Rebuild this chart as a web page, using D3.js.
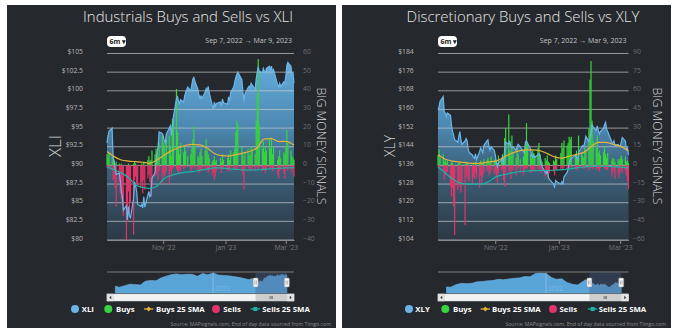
<!DOCTYPE html>
<html>
<head>
<meta charset="utf-8">
<script src="https://cdn.jsdelivr.net/npm/d3@7"></script>
<style>
  body { margin: 0; background: #fff; }
  svg { display: block; font-family: "Open Sans", sans-serif; }
</style>
</head>
<body>
<svg id="chart" width="678" height="336"></svg>
<script>
// ---- data ----
const firstDay = '2022-09-07';
const lastDay = '2023-03-09';
const marketHolidays = ['2022-11-24', '2022-12-26', '2023-01-02', '2023-01-16', '2023-02-20'];

const monthTicks = ['2022-11-01', '2023-01-01', '2023-03-01'];
const monthTickLabels = ["Nov '22", "Jan '23", "Mar '23"];

const xliPriceTicks = [80, 82.5, 85, 87.5, 90, 92.5, 95, 97.5, 100, 102.5, 105];
const xliSignalTicks = [-40, -30, -20, -10, 0, 10, 20, 30, 40, 50, 60];
const xlyPriceTicks = [104, 112, 120, 128, 136, 144, 152, 160, 168, 176, 184];
const xlySignalTicks = [-60, -45, -30, -15, 0, 15, 30, 45, 60, 75, 90];

// daily closes, one per trading day
const xliClose = [
  93.0, 94.0, 94.6, 95.0, 91.0, 90.5, 89.5, 88.8, 89.0, 88.0, 86.5, 85.8, 84.0, 84.6, 82.7, 84.5, 83.2, 83.0,
  85.5, 87.8, 87.3, 86.5, 84.8, 84.5, 84.8, 84.3, 85.8, 84.4, 86.0, 86.5, 85.8, 86.0, 88.3, 89.0, 90.5, 91.8, 92.5, 94.5, 94.3,
  94.0, 93.3, 93.0, 94.2, 95.0, 95.3, 94.0, 95.5, 96.5, 99.0, 99.2, 98.6, 98.3, 98.8, 98.5, 99.3, 99.8, 100.5, 100.0, 100.8, 101.6,
  101.8, 101.3, 100.2, 99.4, 99.0, 99.3, 99.0, 99.8, 100.3, 100.0, 100.6, 99.8, 98.0, 97.5, 98.5, 97.8, 98.3, 98.5, 97.9, 98.9, 98.4,
  98.2, 99.2, 98.6, 99.8, 100.5, 101.2, 101.8, 102.2, 102.5, 101.5, 99.8, 98.6, 99.6, 100.4, 100.6, 100.3, 101.0, 100.8, 100.2, 101.6,
  102.5, 103.2, 102.6, 102.4, 103.0, 102.6, 102.4, 103.0, 103.3, 102.8, 103.3, 102.4, 102.8, 100.8, 100.5, 101.0, 100.6, 101.2, 101.0,
  102.0, 103.4, 103.8, 103.3, 102.2, 102.4, 101.0
];
const xliBuys = [
  6, 4, 7, 5, 2, 3, 1, 2, 1, 0, 1, 0, 0, 0, 0, 1, 0, 0,
  1, 2, 1, 0, 0, 0, 1, 0, 2, 0, 3, 5, 2, 3, 8, 6, 9, 7, 5, 12, 16,
  12, 11, 6, 14, 16, 10, 5, 25, 24, 41, 18, 9, 6, 12, 7, 10, 8, 5, 6, 9, 14,
  21, 10, 5, 4, 7, 9, 5, 8, 14, 8, 6, 4, 2, 3, 5, 2, 3, 4, 2, 6, 3,
  4, 6, 3, 8, 7, 9, 18, 24, 22, 10, 6, 3, 7, 9, 6, 5, 10, 8, 6, 24,
  38, 57, 22, 9, 13, 7, 10, 8, 14, 9, 15, 6, 10, 3, 5, 8, 4, 7, 6,
  10, 19, 12, 8, 5, 4, 3
];
const xliSells = [
  -1, -2, -1, -3, -8, -7, -12, -22, -9, -15, -18, -21, -27, -40, -25, -14, -25, -20,
  -37, -8, -6, -10, -11, -12, -9, -15, -8, -13, -7, -5, -9, -17, -12, -6, -4, -5, -8, -3, -10,
  -4, -6, -5, -3, -10, -3, -6, -2, -1, -2, -3, -4, -2, -3, -2, -1, -1, -1, -3, -2, -1,
  -1, -2, -3, -4, -3, -2, -3, -2, -1, -2, -4, -3, -5, -4, -8, -6, -3, -2, -4, -1, -2,
  -3, -2, -3, -1, -2, -1, -2, -1, -2, -3, -5, -13, -2, -1, -2, -3, -1, -2, -3, -1,
  -1, -2, -1, -3, -2, -1, -4, -2, -1, -2, -1, -3, -2, -5, -7, -3, -2, -4, -7,
  -2, -1, -3, -2, -4, -2, -6
];

const xlyClose = [
  160, 161, 163.5, 165.5, 159, 158.5, 157, 158.5, 157.5, 153, 150.5, 149, 147, 146, 148.4, 150.5, 147, 145,
  146.5, 147.5, 146.5, 143, 141.5, 140.5, 139.5, 139, 141, 138.5, 142, 143.5, 142.5, 141.5, 144.5, 146.5, 147, 144, 142.5, 144, 142.5,
  140.5, 137.5, 135.5, 137, 138.5, 139.5, 136, 143, 146, 145, 146.5, 144, 143.5, 144, 142.5, 144, 145, 144, 142, 141.5, 146,
  146.5, 145.5, 143, 140, 139.5, 140.5, 139.5, 140.5, 141, 140, 136.5, 135.5, 133, 132.5, 134, 131, 130, 128, 126.8, 129.5, 129,
  128, 129, 127.8, 131, 133, 134.5, 137, 138, 139, 140.5, 139.5, 138.5, 141.5, 144, 144.5, 144, 146, 148.5, 146, 148,
  150.5, 153.5, 152.5, 151, 153, 151, 149.5, 150.5, 152, 153.5, 154.5, 151.5, 150.5, 146, 145.5, 146.5, 144.5, 145, 144.5,
  144, 146, 148, 146.5, 143, 143.5, 140.5
];
const xlyBuys = [
  8, 13, 6, 9, 3, 5, 2, 4, 1, 3, 2, 0, 0, 1, 2, 3, 0, 1,
  1, 3, 2, 1, 0, 0, 1, 0, 3, 1, 2, 4, 1, 2, 5, 4, 6, 3, 2, 7, 4,
  5, 3, 2, 8, 6, 9, 4, 22, 30, 41, 12, 8, 24, 10, 6, 14, 9, 5, 7, 11, 16,
  34, 18, 9, 6, 12, 10, 7, 14, 18, 9, 5, 3, 6, 4, 8, 3, 2, 4, 3, 8, 5,
  10, 18, 14, 20, 16, 18, 23, 21, 23, 8, 12, 5, 24, 10, 8, 6, 14, 12, 30, 69,
  84, 36, 20, 14, 24, 10, 12, 8, 11, 15, 9, 6, 10, 4, 6, 5, 3, 5, 4,
  6, 8, 5, 7, 3, 4, 2
];
const xlySells = [
  -1, -2, -1, -4, -12, -8, -6, -5, -17, -25, -18, -33, -56, -20, -14, -17, -22, -16,
  -48, -10, -8, -12, -13, -15, -9, -11, -6, -10, -18, -8, -14, -9, -6, -5, -3, -8, -6, -4, -7,
  -5, -9, -14, -6, -4, -3, -12, -17, -5, -4, -6, -11, -3, -4, -8, -3, -2, -6, -8, -4, -2,
  -3, -2, -6, -5, -4, -3, -5, -3, -2, -4, -6, -5, -9, -7, -4, -11, -6, -5, -8, -3, -4,
  -3, -2, -4, -2, -3, -1, -2, -1, -2, -3, -2, -4, -1, -2, -1, -3, -1, -2, -4, -2,
  -1, -2, -3, -4, -2, -3, -5, -2, -1, -3, -2, -4, -3, -9, -6, -4, -11, -7, -10,
  -5, -3, -6, -4, -8, -13, -19
];

// 25-day moving averages, read weekly
const smaDates = [
  '2022-09-07', '2022-09-14', '2022-09-21', '2022-09-28', '2022-10-05', '2022-10-12', '2022-10-19',
  '2022-10-26', '2022-11-02', '2022-11-09', '2022-11-16', '2022-11-23', '2022-11-30', '2022-12-07',
  '2022-12-14', '2022-12-21', '2022-12-28', '2023-01-04', '2023-01-11', '2023-01-18', '2023-01-25',
  '2023-02-01', '2023-02-08', '2023-02-15', '2023-02-22', '2023-03-01', '2023-03-09'
];
const xliBuysSMA = [7.4, 4.7, 2.9, 2.3, 2.0, 1.7, 1.2, 2.9, 5.6, 7.8, 9.6, 10.8, 11.3, 11.0, 9.3, 6.4, 5.2, 5.0, 5.8, 6.6, 7.6, 9.5, 14.2, 14.4, 12.8, 12.9, 10.9];
const xliSellsSMA = [-0.8, -2.3, -4.0, -6.5, -10.5, -11.8, -12.3, -11.0, -7.0, -5.3, -4.3, -3.6, -3.3, -2.5, -2.0, -1.3, -1.4, -1.8, -2.1, -2.4, -2.5, -2.4, -2.1, -1.8, -1.6, -1.4, -1.2];
const xlyBuysSMA = [8.6, 5.0, 3.5, 2.6, 2.0, 1.6, 1.8, 2.8, 3.5, 6.5, 9.5, 11.5, 12.5, 12.5, 11.8, 9.5, 6.8, 5.8, 7.5, 8.8, 10.5, 15.0, 18.5, 18.5, 17.0, 15.5, 11.5];
const xlySellsSMA = [-1.2, -6.0, -11.0, -14.2, -15.1, -15.1, -15.0, -13.0, -9.0, -7.5, -6.2, -5.1, -4.6, -4.2, -4.1, -4.1, -3.8, -3.4, -2.8, -2.0, -1.3, -0.8, -0.7, -0.7, -1.0, -1.4, -2.0];

// navigator history before the 6m window (monthly)
const navRange = ['2020-04-20', '2023-04-20'];
const navDates = [
  '2020-06-08', '2020-07-01', '2020-08-01', '2020-09-01', '2020-10-01', '2020-11-01', '2020-12-01',
  '2021-01-01', '2021-02-01', '2021-03-01', '2021-04-01', '2021-05-01', '2021-06-01', '2021-07-01',
  '2021-08-01', '2021-09-01', '2021-10-01', '2021-11-01', '2021-12-01', '2022-01-03', '2022-02-01',
  '2022-03-01', '2022-04-01', '2022-05-01', '2022-06-01', '2022-07-01', '2022-08-01', '2022-08-16', '2022-09-01'
];
const xliNavHistory = [73, 70, 74, 78, 77, 76, 86, 88, 87, 94, 99, 103, 105, 103, 104, 104, 99, 106, 103, 107.5, 102, 101, 100, 98, 96, 93, 90, 93, 89];
const xlyNavHistory = [130, 128, 142, 150, 148, 150, 158, 160, 164, 165, 172, 170, 174, 178, 180, 188, 186, 205, 207, 204, 182, 172, 175, 155, 145, 140, 160, 170, 158];

// ---- drawing ----
const svg = d3.select('#chart');
const defs = svg.append('defs');
const parse = d3.utcParse('%Y-%m-%d');
const fmt = d3.utcFormat('%Y-%m-%d');

function tradingDays(a, b) {
  const out = [];
  for (let d = parse(a); d <= parse(b); d = d3.utcDay.offset(d, 1)) {
    const wd = d.getUTCDay();
    if (wd === 0 || wd === 6 || marketHolidays.includes(fmt(d))) continue;
    out.push(d);
  }
  return out;
}
const days = tradingDays(firstDay, lastDay);

const PLOT_TOP = 53.5, PLOT_BOTTOM = 240;
const NAV_TOP = 272, NAV_BOTTOM = 293;
const FONT = '"Open Sans", sans-serif';

function fitText(sel, width) {
  const w = sel.node().getComputedTextLength();
  const fs = parseFloat(sel.attr('font-size'));
  sel.attr('font-size', fs * width / w);
}

function drawPanel(p) {
  const g = svg.append('g');
  g.append('rect').attr('x', p.boxX).attr('y', 5).attr('width', 329).attr('height', 323).attr('fill', '#25282c');

  const x = d3.scaleUtc().domain([days[0], days[days.length - 1]]).range([p.left, p.right]);
  const yP = d3.scaleLinear().domain(d3.extent(p.priceTicks)).range([PLOT_BOTTOM, PLOT_TOP]);
  const yS = d3.scaleLinear().domain(d3.extent(p.signalTicks)).range([PLOT_BOTTOM, PLOT_TOP]);

  // title + range selector
  const title = g.append('text').attr('x', p.titleX).attr('y', 21.7).attr('text-anchor', 'middle')
    .attr('font-size', 15).attr('font-weight', 300).attr('fill', '#e6e6e6').text(p.title);
  fitText(title, p.titleW);

  g.append('rect').attr('x', p.left).attr('y', 36).attr('width', 19).attr('height', 11).attr('rx', 4).attr('fill', '#fff');
  g.append('text').attr('x', p.left + 2.5).attr('y', 44.2).attr('font-size', 7).attr('font-weight', 700)
    .attr('fill', '#222').text('6m \u25BE');
  g.append('text').attr('x', p.right - 2).attr('y', 43).attr('text-anchor', 'end').attr('font-size', 7)
    .attr('fill', '#c4c4c4').text('Sep 7, 2022  \u2192  Mar 9, 2023');

  // price area with gradient
  const gid = 'grad' + p.ticker;
  const grad = defs.append('linearGradient').attr('id', gid).attr('gradientUnits', 'userSpaceOnUse')
    .attr('x1', 0).attr('x2', 0).attr('y1', PLOT_TOP).attr('y2', PLOT_BOTTOM);
  grad.append('stop').attr('offset', '0%').attr('stop-color', '#68b2e2');
  grad.append('stop').attr('offset', '40%').attr('stop-color', '#4c87b0');
  grad.append('stop').attr('offset', '62%').attr('stop-color', '#3c617b');
  grad.append('stop').attr('offset', '100%').attr('stop-color', '#2c3943');

  const closes = days.map((d, i) => ({ date: d, v: p.close[i] }));
  g.append('path').datum(closes)
    .attr('d', d3.area().x(d => x(d.date)).y0(PLOT_BOTTOM).y1(d => yP(d.v)))
    .attr('fill', `url(#${gid})`);

  // gridlines
  g.append('g').selectAll('line').data(p.priceTicks).join('line')
    .attr('x1', p.left).attr('x2', p.right).attr('y1', d => yP(d)).attr('y2', d => yP(d))
    .attr('stroke', 'rgba(210,210,210,0.66)').attr('stroke-width', 1);

  // buys and sells columns
  g.append('g').selectAll('rect').data(days).join('rect')
    .attr('x', d => x(d) - 0.6).attr('width', 1.2)
    .attr('y', (d, i) => yS(p.buys[i])).attr('height', (d, i) => yS(0) - yS(p.buys[i]))
    .attr('fill', '#36d63c');
  g.append('g').selectAll('rect').data(days).join('rect')
    .attr('x', d => x(d) - 0.6).attr('width', 1.2)
    .attr('y', yS(0)).attr('height', (d, i) => yS(p.sells[i]) - yS(0))
    .attr('fill', '#e2346b');

  // price line
  g.append('path').datum(closes)
    .attr('d', d3.line().x(d => x(d.date)).y(d => yP(d.v)))
    .attr('fill', 'none').attr('stroke', '#6ab6ea').attr('stroke-width', 1.2);

  // moving averages
  const smaLine = d3.line().curve(d3.curveMonotoneX).x(d => x(parse(d[0]))).y(d => yS(d[1]));
  g.append('path').datum(d3.zip(smaDates, p.buysSMA)).attr('d', smaLine)
    .attr('fill', 'none').attr('stroke', '#e3b43a').attr('stroke-width', 1.2);
  g.append('path').datum(d3.zip(smaDates, p.sellsSMA)).attr('d', smaLine)
    .attr('fill', 'none').attr('stroke', '#1fb3a3').attr('stroke-width', 1.2);

  // axes
  const leftAxis = g.append('g').attr('transform', `translate(${p.left},0)`)
    .call(d3.axisLeft(yP).tickValues(p.priceTicks).tickSize(0).tickPadding(p.left - p.priceLabelX).tickFormat(d => '$' + d));
  leftAxis.select('.domain').remove();
  leftAxis.attr('font-family', FONT).attr('font-size', 6.8);
  leftAxis.selectAll('text').attr('dy', 0).attr('fill', '#b8b8b8');

  const rightAxis = g.append('g').attr('transform', `translate(${p.right},0)`)
    .call(d3.axisRight(yS).tickValues(p.signalTicks).tickSize(0).tickPadding(p.sigLabelX - p.right));
  rightAxis.select('.domain').remove();
  rightAxis.attr('font-family', FONT).attr('font-size', 6.8);
  rightAxis.selectAll('text').attr('dy', 0).attr('fill', '#6e7175');

  const bottomAxis = g.append('g').attr('transform', `translate(0,${PLOT_BOTTOM})`)
    .call(d3.axisBottom(x).tickValues(monthTicks.map(parse)).tickSize(4).tickSizeOuter(0).tickPadding(1)
      .tickFormat((d, i) => monthTickLabels[i]));
  bottomAxis.attr('font-family', FONT).attr('font-size', 6.8);
  bottomAxis.select('.domain').attr('stroke', '#8a8a8a');
  bottomAxis.selectAll('.tick line').attr('stroke', '#8a8a8a');
  bottomAxis.selectAll('text').attr('fill', '#7c7c7c');

  // axis titles
  const yt = g.append('text').attr('transform', `translate(${p.yTitleX},${p.titleY}) rotate(-90)`)
    .attr('text-anchor', 'middle').attr('dominant-baseline', 'central')
    .attr('font-size', 12).attr('font-weight', 300).attr('fill', '#d6d6d6').text(p.ticker);
  fitText(yt, 22);
  const st = g.append('text').attr('transform', `translate(${p.sTitleX},${p.titleY}) rotate(90)`)
    .attr('text-anchor', 'middle').attr('dominant-baseline', 'central')
    .attr('font-size', 12).attr('font-weight', 300).attr('fill', '#d6d6d6').text('BIG MONEY SIGNALS');
  fitText(st, 117);

  // navigator
  const nx = d3.scaleUtc().domain(navRange.map(parse)).range([p.left, p.right]);
  const ny = d3.scaleLinear().domain(p.navDomain).range([NAV_BOTTOM, NAV_TOP]);
  const navSeries = navDates.map((d, i) => ({ date: parse(d), v: p.navHistory[i] })).concat(closes);
  g.append('path').datum(navSeries)
    .attr('d', d3.area().x(d => nx(d.date)).y0(NAV_BOTTOM).y1(d => ny(d.v)))
    .attr('fill', '#5aa5d8').attr('stroke', '#6cb6e6').attr('stroke-width', 0.6);
  const yearX = nx(parse('2022-01-01'));
  g.append('line').attr('x1', yearX).attr('x2', yearX).attr('y1', NAV_TOP).attr('y2', NAV_BOTTOM)
    .attr('stroke', 'rgba(255,255,255,0.25)');
  g.append('text').attr('x', yearX + 2).attr('y', 290.5).attr('font-size', 6.5)
    .attr('fill', 'rgba(255,255,255,0.22)').text('2022');
  g.append('line').attr('x1', p.left).attr('x2', p.right).attr('y1', NAV_TOP).attr('y2', NAV_TOP)
    .attr('stroke', '#7d7d7d').attr('stroke-width', 1);

  const s0 = nx(days[0]), s1 = nx(days[days.length - 1]);
  g.append('rect').attr('x', s0).attr('y', NAV_TOP + 0.5).attr('width', s1 - s0).attr('height', NAV_BOTTOM - NAV_TOP - 0.5)
    .attr('fill', 'rgba(70,95,140,0.38)');
  [s0, s1].forEach(hx => {
    g.append('rect').attr('x', hx - 2.5).attr('y', 278).attr('width', 5).attr('height', 9).attr('rx', 1)
      .attr('fill', '#f4f4f4').attr('stroke', '#999').attr('stroke-width', 0.5);
    [-0.8, 0.8].forEach(o => g.append('line').attr('x1', hx + o).attr('x2', hx + o).attr('y1', 280.5).attr('y2', 284.5)
      .attr('stroke', '#777').attr('stroke-width', 0.5));
  });

  // scrollbar
  g.append('rect').attr('x', p.left).attr('y', 294).attr('width', p.right - p.left).attr('height', 7)
    .attr('fill', '#f2f2f2').attr('stroke', '#d6d6d6').attr('stroke-width', 0.5);
  g.append('rect').attr('x', s0).attr('y', 294).attr('width', s1 - s0).attr('height', 7).attr('fill', '#cdcdcd');
  [-1.2, 0, 1.2].forEach(o => g.append('line').attr('x1', (s0 + s1) / 2 + o).attr('x2', (s0 + s1) / 2 + o)
    .attr('y1', 296).attr('y2', 299).attr('stroke', '#333').attr('stroke-width', 0.5));
  [[p.left, 1], [p.right - 6.5, -1]].forEach(([bx, dir]) => {
    g.append('rect').attr('x', bx).attr('y', 294).attr('width', 6.5).attr('height', 7)
      .attr('fill', '#e6e6e6').attr('stroke', '#cccccc').attr('stroke-width', 0.5);
    const cx = bx + 3.25;
    g.append('path').attr('d', `M${cx + dir},295.8 L${cx - dir},297.5 L${cx + dir},299.2 Z`).attr('fill', '#333');
  });

  // legend
  const lg = g.append('g').attr('font-size', 7.8).attr('font-weight', 700).attr('fill', '#fff');
  p.legend.forEach(it => {
    if (it.kind === 'dot') {
      lg.append('circle').attr('cx', it.sx).attr('cy', 309).attr('r', 4).attr('fill', it.color);
    } else {
      lg.append('line').attr('x1', it.sx - 4.7).attr('x2', it.sx + 4.7).attr('y1', 309).attr('y2', 309)
        .attr('stroke', it.color).attr('stroke-width', 1.3);
      if (it.kind === 'diamond') {
        lg.append('path').attr('d', `M${it.sx},306.6 L${it.sx + 2.4},309 L${it.sx},311.4 L${it.sx - 2.4},309 Z`).attr('fill', it.color);
      } else {
        lg.append('rect').attr('x', it.sx - 2).attr('y', 307).attr('width', 4).attr('height', 4).attr('fill', it.color);
      }
    }
    lg.append('text').attr('x', it.tx).attr('y', 311.8).text(it.label);
  });

  g.append('text').attr('x', p.sourceX).attr('y', 326).attr('text-anchor', 'end').attr('font-size', 5.2)
    .attr('fill', '#8c8c8c').text('Source: MAPsignals.com, End of day data sourced from Tiingo.com');
}

const BLUE = '#6ab4e4', GREEN = '#3ad43f', PINK = '#e2346b', GOLD = '#e3b43a', TEAL = '#1fb3a3';

drawPanel({
  ticker: 'XLI', title: 'Industrials Buys and Sells vs XLI', boxX: 7,
  left: 107, right: 294, titleX: 188, titleW: 210, priceLabelX: 83, sigLabelX: 303,
  yTitleX: 54, sTitleX: 321, titleY: 146,
  priceTicks: xliPriceTicks, signalTicks: xliSignalTicks,
  close: xliClose, buys: xliBuys, sells: xliSells, buysSMA: xliBuysSMA, sellsSMA: xliSellsSMA,
  navHistory: xliNavHistory, navDomain: [55, 110], sourceX: 331,
  legend: [
    { kind: 'dot', color: BLUE, label: 'XLI', sx: 75, tx: 81.7 },
    { kind: 'dot', color: GREEN, label: 'Buys', sx: 108.3, tx: 116 },
    { kind: 'diamond', color: GOLD, label: 'Buys 25 SMA', sx: 148.7, tx: 156 },
    { kind: 'dot', color: PINK, label: 'Sells', sx: 216, tx: 223.3 },
    { kind: 'square', color: TEAL, label: 'Sells 25 SMA', sx: 255.3, tx: 262.3 }
  ]
});

drawPanel({
  ticker: 'XLY', title: 'Discretionary Buys and Sells vs XLY', boxX: 342,
  left: 438, right: 628.5, titleX: 523, titleW: 233, priceLabelX: 413.7, sigLabelX: 633,
  yTitleX: 389.7, sTitleX: 657, titleY: 146,
  priceTicks: xlyPriceTicks, signalTicks: xlySignalTicks,
  close: xlyClose, buys: xlyBuys, sells: xlySells, buysSMA: xlyBuysSMA, sellsSMA: xlySellsSMA,
  navHistory: xlyNavHistory, navDomain: [96, 213], sourceX: 666,
  legend: [
    { kind: 'dot', color: BLUE, label: 'XLY', sx: 409, tx: 415.3 },
    { kind: 'dot', color: GREEN, label: 'Buys', sx: 445.3, tx: 453 },
    { kind: 'diamond', color: GOLD, label: 'Buys 25 SMA', sx: 485.3, tx: 492 },
    { kind: 'dot', color: PINK, label: 'Sells', sx: 553, tx: 559.5 },
    { kind: 'square', color: TEAL, label: 'Sells 25 SMA', sx: 592.7, tx: 598.7 }
  ]
});
</script>
</body>
</html>
